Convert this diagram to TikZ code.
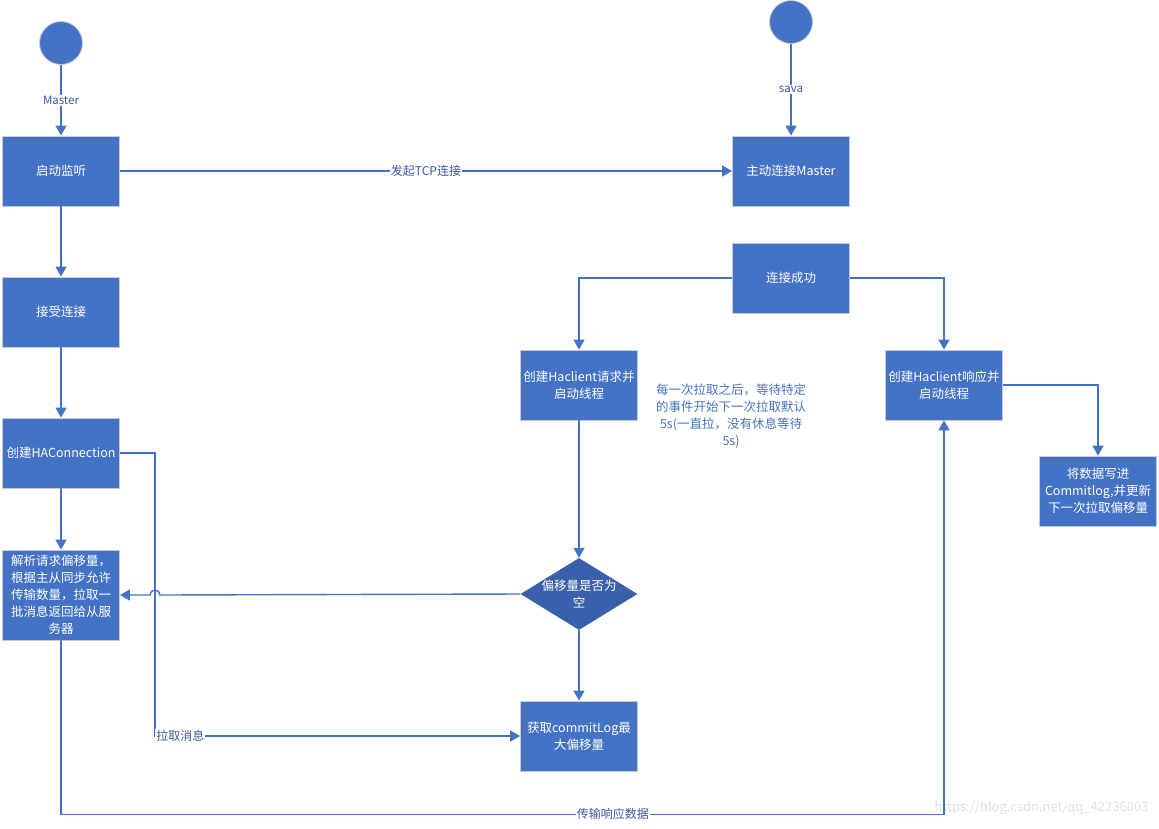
\documentclass[tikz,border=0pt]{standalone}
\usepackage{fontspec}
\setmainfont{Noto Sans CJK SC}
\usetikzlibrary{shapes.geometric, arrows.meta}
\definecolor{boxblue}{HTML}{4472C4}
\definecolor{darkblue}{HTML}{3A60AC}
\definecolor{boxline}{HTML}{C4CBD6}
\definecolor{labelblue}{HTML}{3B57A0}
\tikzstyle{boxStep} = [rectangle, minimum width=117pt, minimum height=70pt, inner sep=2pt, align=center, draw=boxline, line width=0.8pt, fill=boxblue, text=white, font=\fontsize{12.5}{17}\selectfont]
\tikzstyle{boxDecision} = [diamond, minimum width=117pt, minimum height=72pt, inner sep=0pt, draw=none, fill=darkblue]
\tikzstyle{dotStart} = [circle, minimum size=43pt, inner sep=0pt, draw=boxline, line width=0.8pt, fill=boxblue]
\tikzstyle{labelText} = [fill=white, inner sep=1pt, text=labelblue, font=\fontsize{12}{14}\selectfont]
\tikzstyle{arrow} = [draw=boxblue, line width=1.4pt, -{Triangle[length=10pt, width=11pt]}]

\begin{document}
\begin{tikzpicture}[x=1pt, y=-1pt]
\useasboundingbox (0,0) rectangle (1159,828);

% master side
\node (masterDot) [dotStart] at (61,43) {};
\node (listen) [boxStep] at (61,171) {启动监听};
\node (accept) [boxStep] at (61,312) {接受连接};
\node (haconn) [boxStep] at (61,453) {创建HAConnection};
\node (parse) [boxStep, minimum height=90pt] at (61,595) {解析请求偏移量，\\根据主从同步允许\\传输数量，拉取一\\批消息返回给从服\\务器};

% slave side
\node (savaDot) [dotStart] at (791,22) {};
\node (connect) [boxStep] at (791,171) {主动连接Master};
\node (success) [boxStep] at (791,278) {连接成功};
\node (request) [boxStep] at (579,385) {创建Haclient请求并\\启动线程};
\node (respond) [boxStep] at (944,385) {创建Haclient响应并\\启动线程};
\node (write) [boxStep] at (1098,491) {将数据写进\\Commitlog,并更新\\下一次拉取偏移量};
\node (check) [boxDecision] at (579,594) {};
\node (checkText) [text=white, align=center, font=\fontsize{12.5}{17}\selectfont] at (check.center) {偏移量是否为\\空};
\node (fetch) [boxStep] at (579,736) {获取commitLog最\\大偏移量};

\node (note) [text=boxblue, align=center, font=\fontsize{12.5}{16.8}\selectfont] at (731,416) {每一次拉取之后，等待特定\\的事件开始下一次拉取默认\\5s(一直拉，没有休息等待\\5s)};

\node (mark) [anchor=east, text=black!12, font=\fontsize{13}{15}\selectfont] at (1152,808) {https://blog.csdn.net/qq\_42236003};

\coordinate (hopR) at (160,595);

\draw [arrow] (masterDot) -- node[labelText, font=\fontsize{11.5}{13}\selectfont] {Master} (listen);
\draw [arrow] (listen) -- (accept);
\draw [arrow] (accept) -- (haconn);
\draw [arrow] (haconn) -- (parse);
\draw [arrow] (listen) -- node[labelText] {发起TCP连接} (connect);
\draw [arrow] (savaDot) -- node[labelText, font=\fontsize{11.5}{13}\selectfont] {sava} (connect);
\draw [arrow] (success.west) -| (request.north);
\draw [arrow] (success.east) -| (respond.north);
\draw [arrow] (request) -- (check);
\draw [arrow] (check) -- (fetch);
\draw [arrow] (respond.east) -| (write.north);
\draw [arrow] (haconn.east) -- ++(35,0) |- node[labelText, pos=0.535] {拉取消息} (fetch.west);
\draw [arrow] (check.west) -- (hopR) arc[start angle=0, end angle=180, radius=5pt] -- (parse.east);
\draw [arrow] (parse.south) -- ++(0,174) -| node[labelText, pos=0.3125] {传输响应数据} (respond.south);

\end{tikzpicture}
\end{document}
